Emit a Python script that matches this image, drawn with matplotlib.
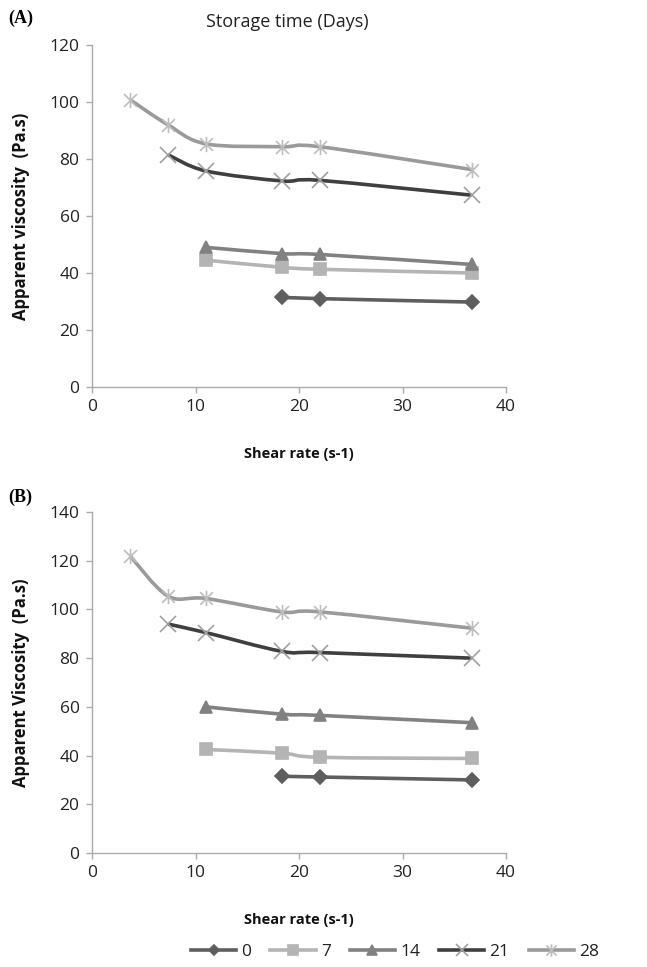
import numpy as np
import matplotlib
matplotlib.use('Agg')
import matplotlib.pyplot as plt
from matplotlib.path import Path
from matplotlib.patches import PathPatch
from matplotlib.lines import Line2D

plt.rcParams['font.family'] = ['Open Sans', 'DejaVu Sans']

# shear rates (s-1)
shear = [3.67, 7.33, 11.0, 18.33, 22.0, 36.67]
days = ['0', '7', '14', '21', '28']

# panel A : apparent viscosity (Pa.s), one list per storage day
a_0 = [31.5, 31.0, 29.8]
a_7 = [44.5, 42.0, 41.3, 40.0]
a_14 = [49.0, 46.8, 46.5, 43.0]
a_21 = [81.5, 75.8, 72.3, 72.5, 67.3]
a_28 = [100.8, 92.0, 85.3, 84.3, 84.3, 76.3]

# panel B
b_0 = [31.5, 31.2, 30.0]
b_7 = [42.5, 41.0, 39.3, 38.8]
b_14 = [60.0, 57.0, 56.5, 53.5]
b_21 = [94.0, 90.5, 82.8, 82.3, 80.0]
b_28 = [122.0, 105.5, 104.5, 99.0, 99.0, 92.3]

# excel-like asterisk marker (x plus vertical bar)
star = Path([(-1, -1), (1, 1), (-1, 1), (1, -1), (0, -1.2), (0, 1.2)],
            [Path.MOVETO, Path.LINETO] * 3)

styles = {
    '0':  dict(line='#5e5e5e', marker='D', ms=7, mfc='#5e5e5e', mec='#5e5e5e'),
    '7':  dict(line='#b4b4b4', marker='s', ms=9, mfc='#b4b4b4', mec='#b4b4b4'),
    '14': dict(line='#818181', marker='^', ms=9, mfc='#818181', mec='#818181'),
    '21': dict(line='#3f3f3f', marker='x', ms=11, mfc='none', mec='#a0a0a0'),
    '28': dict(line='#9a9a9a', marker=star, ms=11, mfc='none', mec='#bdbdbd'),
}


def smooth(x, y):
    # catmull-rom through the points, like excel's smoothed line
    pts = np.column_stack([x, y])
    n = len(pts)
    verts = [pts[0]]
    codes = [Path.MOVETO]
    for i in range(n - 1):
        p0 = pts[max(i - 1, 0)]
        p1 = pts[i]
        p2 = pts[i + 1]
        p3 = pts[min(i + 2, n - 1)]
        verts += [p1 + (p2 - p0) / 6, p2 - (p3 - p1) / 6, p2]
        codes += [Path.CURVE4] * 3
    return Path(verts, codes)


def draw(ax, series, ymax, ylabel):
    for d, vals in zip(days, series):
        st = styles[d]
        x = shear[len(shear) - len(vals):]
        ax.add_patch(PathPatch(smooth(x, vals), fc='none', ec=st['line'],
                               lw=2.6, zorder=2))
        ax.plot(x, vals, ls='none', marker=st['marker'], ms=st['ms'],
                mfc=st['mfc'], mec=st['mec'], mew=1.2, zorder=3)
    ax.set_xlim(0, 40)
    ax.set_ylim(0, ymax)
    ax.set_xticks(range(0, 41, 10))
    ax.set_yticks(range(0, ymax + 1, 20))
    for s in ['top', 'right']:
        ax.spines[s].set_visible(False)
    for s in ['left', 'bottom']:
        ax.spines[s].set_color('#aaaaaa')
        ax.spines[s].set_linewidth(1.0)
    ax.tick_params(colors='#aaaaaa', labelcolor='#222222', labelsize=12.5,
                   length=4, width=1, pad=5)
    ax.set_ylabel(ylabel, fontsize=12, fontweight='bold', color='#111111',
                  labelpad=14)
    ax.set_xlabel('Shear rate (s-1)', fontsize=10.5, fontweight='bold',
                  color='#111111', labelpad=23)


fig = plt.figure(figsize=(6.47, 9.67), dpi=100)
axA = fig.add_axes([0.1422, 0.5998, 0.640, 0.3537])
axB = fig.add_axes([0.1422, 0.1179, 0.640, 0.3526])

draw(axA, [a_0, a_7, a_14, a_21, a_28], 120, 'Apparent viscosity  (Pa.s)')
draw(axB, [b_0, b_7, b_14, b_21, b_28], 140, 'Apparent Viscosity  (Pa.s)')

fig.text(287 / 647, 1 - 22 / 967, 'Storage time (Days)', ha='center',
         va='center', fontsize=13, color='#222222')
fig.text(8 / 647, 1 - 18 / 967, '(A)', ha='left', va='center', fontsize=13,
         fontweight='bold', family='Liberation Serif')
fig.text(8 / 647, 1 - 497 / 967, '(B)', ha='left', va='center', fontsize=13,
         fontweight='bold', family='Liberation Serif')

handles = [Line2D([], [], color=styles[d]['line'], lw=2.6,
                  marker=styles[d]['marker'], ms=styles[d]['ms'] * 0.8,
                  mfc=styles[d]['mfc'], mec=styles[d]['mec'], mew=1.2)
           for d in days]
fig.legend(handles, days, loc='center', bbox_to_anchor=(395 / 647, 1 - 952 / 967),
           ncol=5, frameon=False, fontsize=12.5, handlelength=2.6,
           handletextpad=0.3, columnspacing=1.1, labelcolor='#222222')

fig.savefig('out.png', dpi=100)
